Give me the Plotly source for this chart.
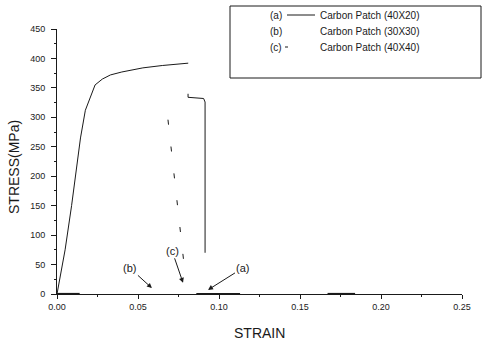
import plotly.graph_objects as go

# Curve (a): Carbon Patch (40X20) - solid rising curve
strain_a = [0, 0.005, 0.009, 0.012, 0.0145, 0.0175, 0.0205, 0.0235, 0.028, 0.033, 0.04, 0.053, 0.065, 0.081]
stress_a = [0, 75, 150, 215, 265, 312, 335, 355, 365, 372, 377, 384, 388, 392]
# Curve (a) failure drop
strain_a_drop = [0.0809, 0.0809, 0.0905, 0.0914, 0.0914]
stress_a_drop = [340, 334, 332, 326, 70]
# Curve (c): Carbon Patch (40X40) - broken drop line
strain_c = [0.0685, 0.079]
stress_c = [296, 36]
# Zero-stress residue along the strain axis
strain_zero = [[0, 0.014], [0.086, 0.113], [0.167, 0.184]]
stress_zero = [0, 0]

x_ticks = [0, 0.05, 0.10, 0.15, 0.20, 0.25]
x_tick_labels = ["0.00", "0.05", "0.10", "0.15", "0.20", "0.25"]
y_ticks = [0, 50, 100, 150, 200, 250, 300, 350, 400, 450]

legend_tags = ["(a)", "(b)", "(c)"]
legend_names = ["Carbon Patch (40X20)", "Carbon Patch (30X30)", "Carbon Patch (40X40)"]

ink = "#1a1a1a"
font = "Liberation Sans, Arial, sans-serif"

fig = go.Figure()
fig.add_trace(go.Scatter(x=strain_a, y=stress_a, mode="lines", line=dict(color=ink, width=1), showlegend=False))
fig.add_trace(go.Scatter(x=strain_a_drop, y=stress_a_drop, mode="lines", line=dict(color=ink, width=1), showlegend=False))
fig.add_trace(go.Scatter(x=strain_c, y=stress_c, mode="lines", line=dict(color=ink, width=1, dash="5px,22px"), showlegend=False))
for seg in strain_zero:
    fig.add_trace(go.Scatter(x=seg, y=stress_zero, mode="lines", line=dict(color=ink, width=2.2), showlegend=False))

# Arrow annotations
arrow_font = dict(size=11, color=ink, family=font)
fig.add_annotation(x=0.0586, y=10, text="(b)", ax=-22, ay=-20, showarrow=True, arrowhead=2, arrowsize=1, arrowwidth=1, arrowcolor=ink, font=arrow_font)
fig.add_annotation(x=0.0778, y=19, text="(c)", ax=-11, ay=-32, showarrow=True, arrowhead=2, arrowsize=1, arrowwidth=1, arrowcolor=ink, font=arrow_font)
fig.add_annotation(x=0.0932, y=7, text="(a)", ax=35, ay=-22, showarrow=True, arrowhead=2, arrowsize=1, arrowwidth=1, arrowcolor=ink, font=arrow_font)

# Paper coordinates helpers: x 0->57px, 1->462px; y 0->294px, 1->29px
def px_x(p):
    return (p - 57) / 405.0

def px_y(p):
    return (294 - p) / 265.0

# Legend box
fig.add_shape(type="rect", xref="paper", yref="paper", x0=px_x(230), x1=px_x(481), y0=px_y(78), y1=px_y(6),
              line=dict(color=ink, width=1), fillcolor="white", layer="above")
rows_y = [15, 31, 47]
leg_font = dict(size=10, color=ink, family=font)
for i, (tag, name) in enumerate(zip(legend_tags, legend_names)):
    fig.add_annotation(xref="paper", yref="paper", x=px_x(268), y=px_y(rows_y[i]), text=tag, showarrow=False,
                       xanchor="left", yanchor="middle", font=leg_font)
    fig.add_annotation(xref="paper", yref="paper", x=px_x(318), y=px_y(rows_y[i]), text=name, showarrow=False,
                       xanchor="left", yanchor="middle", font=leg_font)
fig.add_shape(type="line", xref="paper", yref="paper", x0=px_x(287), x1=px_x(315), y0=px_y(15), y1=px_y(15),
              line=dict(color=ink, width=1))
fig.add_shape(type="line", xref="paper", yref="paper", x0=px_x(285), x1=px_x(288), y0=px_y(47), y1=px_y(47),
              line=dict(color=ink, width=1))

# Axis titles
fig.add_annotation(xref="paper", yref="paper", x=px_x(259), y=px_y(333), text="STRAIN", showarrow=False,
                   xanchor="center", yanchor="middle", font=dict(size=14, color=ink, family=font))
fig.add_annotation(xref="paper", yref="paper", x=px_x(14), y=px_y(167), text="STRESS(MPa)", showarrow=False,
                   textangle=-90, xanchor="center", yanchor="middle", font=dict(size=14, color=ink, family=font))

fig.update_layout(
    width=484, height=345,
    margin=dict(l=57, r=22, t=29, b=51),
    paper_bgcolor="white", plot_bgcolor="white",
    font=dict(family=font, color=ink),
    showlegend=False,
)
fig.update_xaxes(
    range=[0, 0.25], tickvals=x_ticks, ticktext=x_tick_labels, automargin=False,
    showgrid=False, zeroline=False, showline=True, linecolor=ink, linewidth=1,
    ticks="outside", ticklen=4, tickcolor=ink, tickfont=dict(size=9, color=ink),
    minor=dict(dtick=0.025, ticks="outside", ticklen=2, tickcolor=ink),
)
fig.update_yaxes(
    range=[0, 450], tickvals=y_ticks, automargin=False,
    showgrid=False, zeroline=False, showline=True, linecolor=ink, linewidth=1,
    ticks="outside", ticklen=5, tickcolor=ink, tickfont=dict(size=9, color=ink), ticklabelstandoff=4,
    minor=dict(dtick=25, ticks="outside", ticklen=2, tickcolor=ink),
)

fig.write_html("out.html", config={"displayModeBar": False},
               post_script="document.body.style.margin='0px';document.body.style.overflow='hidden';")
